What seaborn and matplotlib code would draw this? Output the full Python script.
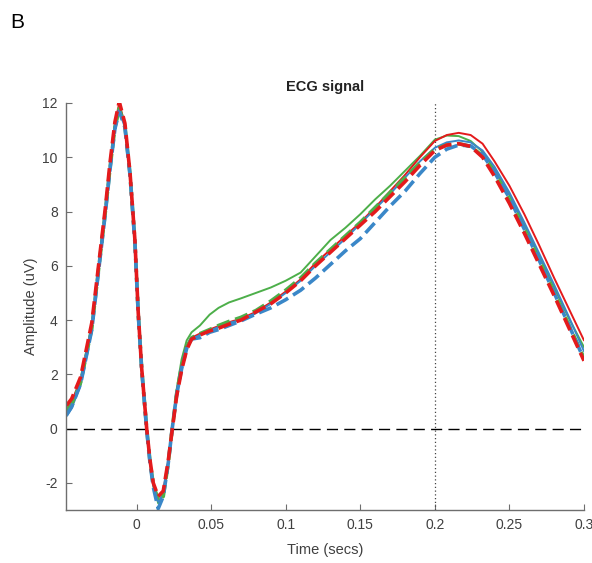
import matplotlib
matplotlib.use("Agg")
import matplotlib.pyplot as plt
import seaborn as sns
import pandas as pd

# ---- data ----
time_s = [-0.047, -0.0435, -0.0375, -0.030, -0.0255, -0.021, -0.0178, -0.0145, -0.0116,
          -0.0078, -0.0044, -0.0011, 0.0011, 0.0034, 0.0056, 0.0068, 0.009, 0.0112, 0.0145,
          0.0179, 0.0212, 0.0239, 0.0269, 0.0302, 0.0336, 0.0369,
          0.0425, 0.049, 0.055, 0.062, 0.070, 0.080, 0.090, 0.100, 0.110, 0.120, 0.130,
          0.140, 0.150, 0.160, 0.170, 0.180, 0.190, 0.200, 0.208, 0.216, 0.224, 0.232,
          0.240, 0.250, 0.260, 0.270, 0.280, 0.290, 0.300]

green_solid = [0.65, 0.85, 1.65, 3.7, 5.8, 7.9, 9.6, 11.15, 11.85, 11.2, 9.45, 6.95, 4.35, 2.3,
               0.8, 0.0, -1.2, -2.1, -2.75, -2.45, -1.25, 0.05, 1.45, 2.55, 3.25, 3.55,
               3.8, 4.2, 4.45, 4.65, 4.8, 5.0, 5.2, 5.45, 5.75, 6.35, 6.95, 7.4, 7.9, 8.45,
               8.95, 9.5, 10.05, 10.65, 10.8, 10.78, 10.6, 10.2, 9.55, 8.6, 7.5, 6.35, 5.2,
               4.05, 3.0]

red_solid = [0.9, 1.0, 1.8, 3.8, 5.9, 8.0, 9.7, 11.25, 12.0, 11.2, 9.4, 6.9, 4.3, 2.25,
             0.8, 0.0, -1.18, -2.03, -2.55, -2.3, -1.2, 0.0, 1.3, 2.35, 3.05, 3.35,
             3.5, 3.65, 3.78, 3.92, 4.05, 4.3, 4.65, 5.05, 5.5, 6.1, 6.6, 7.1, 7.6, 8.15,
             8.75, 9.35, 10.0, 10.6, 10.82, 10.9, 10.82, 10.5, 9.85, 8.95, 7.9, 6.75, 5.55,
             4.4, 3.25]

blue_solid = [0.45, 0.75, 1.6, 3.6, 5.75, 7.85, 9.5, 11.0, 11.7, 11.1, 9.35, 6.85, 4.25, 2.2,
              0.75, -0.05, -1.25, -2.1, -2.7, -2.4, -1.25, 0.0, 1.3, 2.3, 3.0, 3.3,
              3.45, 3.6, 3.75, 3.9, 4.0, 4.25, 4.6, 5.0, 5.45, 6.0, 6.5, 7.0, 7.55, 8.1,
              8.65, 9.25, 9.85, 10.35, 10.55, 10.62, 10.55, 10.25, 9.65, 8.7, 7.6, 6.45,
              5.3, 4.1, 2.85]

green_dashed = [0.7, 0.9, 1.7, 3.7, 5.85, 7.95, 9.6, 11.1, 11.8, 11.15, 9.4, 6.9, 4.3, 2.25,
                0.78, 0.0, -1.2, -2.05, -2.65, -2.5, -1.3, 0.0, 1.3, 2.3, 3.0, 3.35,
                3.5, 3.65, 3.8, 3.95, 4.1, 4.35, 4.7, 5.1, 5.55, 6.1, 6.6, 7.1, 7.6, 8.15,
                8.7, 9.25, 9.8, 10.3, 10.45, 10.5, 10.4, 10.05, 9.4, 8.4, 7.3, 6.15, 5.0,
                3.8, 2.6]

blue_dashed = [0.5, 0.8, 1.65, 3.65, 5.8, 7.9, 9.55, 11.05, 11.7, 11.1, 9.35, 6.85, 4.25,
               2.2, 0.75, -0.05, -1.25, -2.15, -2.95, -2.5, -1.3, 0.0, 1.25, 2.2, 2.95, 3.3,
               3.35, 3.55, 3.65, 3.8, 3.97, 4.22, 4.45, 4.75, 5.1, 5.55, 6.05, 6.55, 7.0,
               7.6, 8.2, 8.75, 9.4, 10.0, 10.3, 10.45, 10.42, 10.1, 9.45, 8.5, 7.35, 6.2,
               5.0, 3.8, 2.55]

red_dashed = [0.85, 1.1, 1.9, 3.9, 6.0, 8.1, 9.8, 11.3, 12.05, 11.25, 9.45, 6.95, 4.3, 2.25,
              0.8, 0.0, -1.15, -2.0, -2.5, -2.3, -1.2, -0.05, 1.2, 2.15, 2.9, 3.3,
              3.45, 3.6, 3.7, 3.85, 4.0, 4.3, 4.6, 5.0, 5.45, 6.0, 6.5, 7.0, 7.5, 8.0,
              8.55, 9.1, 9.7, 10.25, 10.45, 10.5, 10.4, 10.0, 9.3, 8.3, 7.2, 6.05, 4.9,
              3.7, 2.5]

x_ticks = [0, 0.05, 0.1, 0.15, 0.2, 0.25, 0.3]
x_tick_labels = ["0", "0.05", "0.1", "0.15", "0.2", "0.25", "0.3"]
y_ticks = [-2, 0, 2, 4, 6, 8, 10, 12]

# ---- styling ----
sns.set_theme(style="white")
plt.rcParams['font.family'] = ['Liberation Sans', 'DejaVu Sans']
plt.rcParams['axes.unicode_minus'] = False

GREEN = "#4daf4a"
RED = "#e41a1c"
BLUE = "#3a87c8"

fig = plt.figure(figsize=(5.92, 5.63), dpi=100)
W, H = 592, 563
left, right, bottom, top = 66, 584, 510, 103
ax = fig.add_axes([left / W, 1 - bottom / H, (right - left) / W, (bottom - top) / H])

series = [
    (green_solid, GREEN, "-", 1.4),
    (red_solid, RED, "-", 1.4),
    (blue_solid, BLUE, "-", 1.4),
    (green_dashed, GREEN, "--", 2.6),
    (blue_dashed, BLUE, "--", 2.6),
    (red_dashed, RED, "--", 2.6),
]
for vals, color, ls, lw in series:
    df = pd.DataFrame({"t": time_s, "v": vals})
    sns.lineplot(data=df, x="t", y="v", ax=ax, color=color, linestyle=ls,
                 linewidth=lw, estimator=None, sort=False)

ax.axhline(0, color="black", linestyle=(0, (8, 4.5)), linewidth=1.0, zorder=1)
ax.axvline(0.2, color="#444444", linestyle=(0, (1, 2)), linewidth=0.9, zorder=1)

ax.set_xlim(-0.0473, 0.3)
ax.set_ylim(-3, 12)
ax.set_xticks(x_ticks)
ax.set_xticklabels(x_tick_labels)
ax.set_yticks(y_ticks)

for s in ["top", "right"]:
    ax.spines[s].set_visible(False)
for s in ["left", "bottom"]:
    ax.spines[s].set_color("#6e6e6e")
    ax.spines[s].set_linewidth(1.0)

ax.tick_params(bottom=True, left=True, direction="in", length=4, width=0.8,
               color="#6e6e6e", labelcolor="#404040", labelsize=10, pad=6)

ax.set_xlabel("Time (secs)", fontsize=10.5, color="#404040", labelpad=8)
ax.set_ylabel("Amplitude (uV)", fontsize=10.5, color="#404040", labelpad=3)
ax.set_title("ECG signal", fontsize=10.5, fontweight="bold", color="#222222", pad=9)

fig.text(10 / W, 1 - 22 / H, "B", fontsize=15, va="center", ha="left", color="black")

fig.savefig("out.png", dpi=100)
